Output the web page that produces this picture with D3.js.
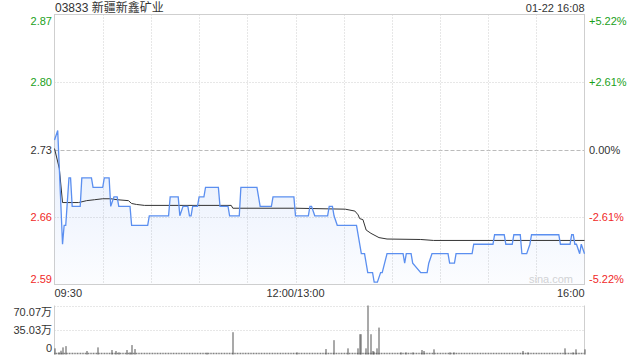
<!DOCTYPE html>
<html>
<head>
<meta charset="utf-8">
<script src="https://cdn.jsdelivr.net/npm/d3@7"></script>
<style>
  html, body { margin: 0; padding: 0; background: #fff; }
  svg text { font-family: "Liberation Sans", Arial, "Noto Sans CJK SC", sans-serif; }
</style>
</head>
<body>
<svg id="chart" width="640" height="360"></svg>
<script>
// ---- data ----
const title = "03833 新疆新鑫矿业";
const stamp = "01-22 16:08";
const prevClose = 2.73;
const maxPct = 0.0522;

const priceTicks = ["2.87", "2.80", "2.73", "2.66", "2.59"];
const pctTicks = ["+5.22%", "+2.61%", "0.00%", "-2.61%", "-5.22%"];
const pctSteps = [2, 1, 0, -1, -2];
const gridTimes = ["10:00", "10:30", "11:00", "11:30", "12:00", "13:30", "14:00", "14:30", "15:00", "15:30"];
const timeLabels = ["09:30", "12:00/13:00", "16:00"];
const volTicks = ["70.07万", "35.03万", "0"];
const volMax = 70.07;

const priceTimes = ["09:30","09:32","09:34","09:35","09:36","09:37","09:39","09:40","09:41","09:46",
  "09:47","09:53","09:54","10:00","10:01","10:04","10:05","10:07","10:09","10:10",
  "10:17","10:18","10:28","10:29","10:41","10:42","10:47","10:48","10:50","10:53",
  "10:54","10:55","10:56","10:59","11:00","11:03","11:04","11:12","11:13","11:18",
  "11:19","11:25","11:26","11:36","11:38","11:45","11:46","11:59","13:00","13:08",
  "13:09","13:10","13:12","13:20","13:21","13:23","13:24","13:26","13:38","13:41",
  "13:43","13:45","13:48","13:49","13:51","13:53","13:54","13:57","14:07","14:08",
  "14:09","14:12","14:13","14:18","14:22","14:23","14:25","14:35","14:36","14:39",
  "14:40","14:50","14:51","15:03","15:04","15:10","15:11","15:15","15:16","15:20",
  "15:21","15:24","15:26","15:27","15:44","15:45","15:51","15:52","15:53","15:54",
  "15:55","15:57","15:58","16:00"];
const priceValues = [2.74,2.75,2.67,2.63,2.65,2.65,2.70,2.70,2.67,2.67,
  2.70,2.70,2.69,2.69,2.70,2.70,2.67,2.68,2.68,2.67,
  2.67,2.65,2.65,2.66,2.66,2.68,2.68,2.66,2.67,2.67,
  2.66,2.66,2.67,2.67,2.68,2.68,2.69,2.69,2.67,2.67,
  2.66,2.66,2.69,2.69,2.67,2.67,2.68,2.68,2.66,2.66,
  2.67,2.67,2.66,2.66,2.67,2.67,2.66,2.65,2.65,2.62,
  2.62,2.60,2.60,2.59,2.59,2.60,2.60,2.62,2.62,2.61,
  2.62,2.62,2.61,2.60,2.60,2.61,2.62,2.62,2.61,2.61,
  2.62,2.62,2.63,2.63,2.64,2.64,2.63,2.63,2.64,2.64,
  2.62,2.62,2.63,2.64,2.64,2.63,2.63,2.64,2.64,2.63,
  2.63,2.62,2.63,2.62];

const avgTimes = ["09:30","09:33","09:35","09:45","09:50","09:55","10:00","10:05","10:09","10:16",
  "10:18","10:21","10:26","11:20","11:21","11:59","13:00","13:31","13:37","13:39",
  "13:40","13:42","13:44","13:47","13:52","13:57","14:18","14:26","16:00"];
const avgValues = [2.731,2.71,2.674,2.674,2.676,2.677,2.678,2.678,2.677,2.676,
  2.673,2.672,2.671,2.671,2.668,2.668,2.668,2.667,2.665,2.661,
  2.657,2.656,2.645,2.6415,2.637,2.6355,2.635,2.634,2.634];

// volume in 万
const volTimes = ["09:30","09:33","09:34","09:35","09:37","09:50","09:57","10:06","10:08","10:10",
  "10:15","10:17","10:18","10:20","11:05","11:21","13:01","13:19","13:24","13:33",
  "13:39","13:40","13:41","13:44","13:45","13:47","13:48","13:49","13:51","13:52",
  "14:06","14:09","14:13","14:19","14:20","14:26","14:36","14:39","15:22","15:25",
  "15:48","15:53","15:55","16:00"];
const volValues = [8.8,3,5.4,10.2,12,5,10.2,6.4,5,3,
  6.4,3,13.5,7.8,2.5,31.9,3,7.8,20.5,8.8,
  8.8,29,29,8.8,70.07,29,5,4,8.8,38.5,
  3,3,3,6.4,5,7.4,3,3,5,3,
  8.8,3,7.4,7.4];

// ---- drawing ----
const GREEN = "#1a9f1a", RED = "#f02828", TEXT = "#333", GRID = "#cfcfcf";
const svg = d3.select("#chart");
const pLeft = 54.5, pRight = 584.5, pTop = 14.5, pBottom = 284.5;
const vTop = 305.5, vBottom = 354.5;

const parse = s => d3.timeParse("%H:%M")(s);
const xScale = d3.scaleTime()
  .domain([parse("09:30"), parse("12:00"), parse("13:00"), parse("16:00")])
  .range([pLeft, 295.5, 295.5, pRight]);
const yScale = d3.scaleLinear()
  .domain([prevClose * (1 - maxPct), prevClose * (1 + maxPct)])
  .range([pBottom, pTop]);
const vScale = d3.scaleLinear().domain([0, volMax]).range([vBottom, vTop]);
const pctLevel = k => prevClose * (1 + k * maxPct / 2);
const colorFor = k => k > 0 ? GREEN : (k < 0 ? RED : TEXT);

// title + time stamp
svg.append("text").attr("x", 55).attr("y", 12).attr("font-size", 12).attr("fill", TEXT).text(title);
svg.append("text").attr("x", pRight).attr("y", 12).attr("font-size", 11).attr("fill", TEXT)
  .attr("text-anchor", "end").text(stamp);

// gradient for the area
const grad = svg.append("defs").append("linearGradient")
  .attr("id", "fillGrad").attr("x1", 0).attr("y1", 0).attr("x2", 0).attr("y2", 1);
grad.append("stop").attr("offset", "0%").attr("stop-color", "#5b8ff0").attr("stop-opacity", 0.16);
grad.append("stop").attr("offset", "100%").attr("stop-color", "#5b8ff0").attr("stop-opacity", 0.02);

// horizontal grid
pctSteps.forEach(k => {
  if (Math.abs(k) === 2) return;
  const y = Math.round(yScale(pctLevel(k))) + 0.5;
  svg.append("line").attr("x1", pLeft).attr("x2", pRight).attr("y1", y).attr("y2", y)
    .attr("stroke", k === 0 ? "#bbb" : GRID)
    .attr("stroke-dasharray", k === 0 ? "4,2" : "1,2");
});
// vertical grid
gridTimes.forEach(t => {
  const x = Math.round(xScale(parse(t))) + 0.5;
  svg.append("line").attr("x1", x).attr("x2", x).attr("y1", pTop).attr("y2", pBottom)
    .attr("stroke", GRID).attr("stroke-dasharray", "1,2");
});
// frame
svg.append("rect").attr("x", pLeft).attr("y", pTop).attr("width", pRight - pLeft).attr("height", pBottom - pTop)
  .attr("fill", "none").attr("stroke", GRID);

// watermark
svg.append("text").attr("x", 573).attr("y", 283).attr("font-size", 11).attr("fill", "#d4d4d4")
  .attr("text-anchor", "end").text("sina.com");

// price axis labels
pctSteps.forEach((k, i) => {
  let y = yScale(pctLevel(k)) + 4;
  if (k === 2) y += 6;
  if (k === -2) y -= 6;
  svg.append("text").attr("x", 52).attr("y", y).attr("font-size", 11).attr("text-anchor", "end")
    .attr("fill", colorFor(k)).text(priceTicks[i]);
  svg.append("text").attr("x", 589).attr("y", y).attr("font-size", 11)
    .attr("fill", colorFor(k)).text(pctTicks[i]);
});

// time labels
svg.append("text").attr("x", pLeft).attr("y", 297).attr("font-size", 11).attr("fill", TEXT).text(timeLabels[0]);
svg.append("text").attr("x", xScale(parse("12:00"))).attr("y", 297).attr("font-size", 11).attr("fill", TEXT)
  .attr("text-anchor", "middle").text(timeLabels[1]);
svg.append("text").attr("x", pRight).attr("y", 297).attr("font-size", 11).attr("fill", TEXT)
  .attr("text-anchor", "end").text(timeLabels[2]);

// price line + area
const priceData = priceTimes.map((t, i) => ({ t: parse(t), v: priceValues[i] }));
const avgData = avgTimes.map((t, i) => ({ t: parse(t), v: avgValues[i] }));

const area = d3.area().x(d => xScale(d.t)).y0(pBottom).y1(d => yScale(d.v));
svg.append("path").datum(priceData).attr("d", area).attr("fill", "url(#fillGrad)");

const line = d3.line().x(d => xScale(d.t)).y(d => yScale(d.v));
svg.append("path").datum(avgData).attr("d", line)
  .attr("fill", "none").attr("stroke", "#333").attr("stroke-width", 1);
svg.append("path").datum(priceData).attr("d", line)
  .attr("fill", "none").attr("stroke", "#5b8ff0").attr("stroke-width", 1.3);

// ---- volume panel ----
[volMax, volMax / 2].forEach(v => {
  const y = Math.round(vScale(v)) + 0.5;
  svg.append("line").attr("x1", pLeft).attr("x2", pRight).attr("y1", y).attr("y2", y)
    .attr("stroke", GRID).attr("stroke-dasharray", "1,2");
});
svg.append("line").attr("x1", pLeft).attr("x2", pLeft).attr("y1", vTop).attr("y2", vBottom).attr("stroke", GRID);
svg.append("line").attr("x1", pRight).attr("x2", pRight).attr("y1", vTop).attr("y2", vBottom).attr("stroke", GRID);
// tiny bars along the baseline
svg.append("line").attr("x1", pLeft).attr("x2", pRight).attr("y1", vBottom - 1).attr("y2", vBottom - 1)
  .attr("stroke", "#777").attr("stroke-width", 1.5).attr("stroke-dasharray", "1,0.6");

svg.append("g").selectAll("rect")
  .data(volTimes.map((t, i) => ({ t: parse(t), v: volValues[i] })))
  .join("rect")
  .attr("x", d => Math.round(xScale(d.t)) - 0.5)
  .attr("width", 1)
  .attr("y", d => vScale(d.v))
  .attr("height", d => vBottom - vScale(d.v))
  .attr("fill", "#555");

const volLabelY = [311.7, 330, 348.3];
volTicks.forEach((s, i) => {
  svg.append("text").attr("x", 52).attr("y", volLabelY[i] + 4).attr("font-size", 11)
    .attr("text-anchor", "end").attr("fill", TEXT).text(s);
});
</script>
</body>
</html>
